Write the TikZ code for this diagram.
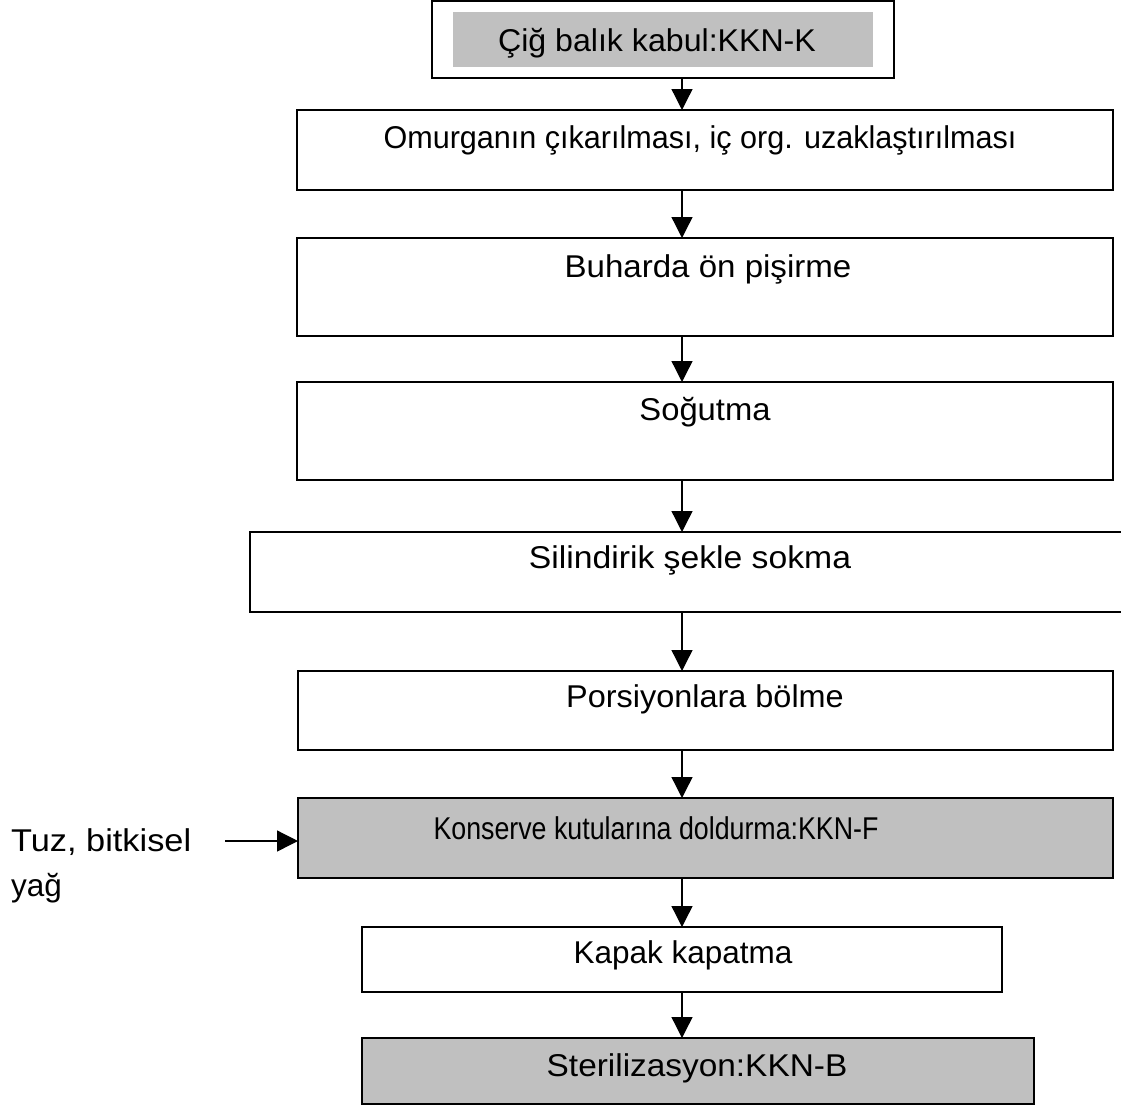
\documentclass[tikz,border=0pt]{standalone}
\usepackage{fontspec}
\setmainfont{Liberation Sans}
\usetikzlibrary{arrows.meta}
\definecolor{boxgray}{HTML}{C0C0C0}
% horizontal stretch of a label
\newcommand\hstretch[2]{\scalebox{#1}[1]{#2}}
\begin{document}
\begin{tikzpicture}[x=1pt,y=-1pt,
  stepbox/.style={draw=black,line width=1.5pt,inner sep=0pt,outer sep=0pt},
  graybox/.style={stepbox,fill=boxgray},
  txt/.style={inner sep=0pt,font=\fontsize{31.5}{36}\selectfont},
  arr/.style={line width=1.3pt,-{Triangle[length=21pt,width=21pt]}}]
\useasboundingbox (0,0) rectangle (1121,1106);
\clip (0,0) rectangle (1121,1106);
% process steps
\node[stepbox,minimum width=462pt,minimum height=77pt] (b1) at (663,39.5) {};
\node[fill=boxgray,inner sep=0pt,minimum width=420pt,minimum height=55pt] (g1) at (663,39.5) {};
\node[stepbox,minimum width=816pt,minimum height=80pt] (b2) at (705,150) {};
\node[stepbox,minimum width=816pt,minimum height=98pt] (b3) at (705,287) {};
\node[stepbox,minimum width=816pt,minimum height=98pt] (b4) at (705,431) {};
\node[stepbox,minimum width=900pt,minimum height=80pt] (b5) at (700,572) {};
\node[stepbox,minimum width=815pt,minimum height=79pt] (b6) at (705.5,710.5) {};
\node[graybox,minimum width=815pt,minimum height=80pt] (b7) at (705.5,838) {};
\node[stepbox,minimum width=640pt,minimum height=65pt] (b8) at (682,959.5) {};
\node[graybox,minimum width=672pt,minimum height=66pt] (b9) at (698,1071) {};
% step texts
\node[txt] (t1) at (657,43) {\hstretch{1.02}{Çiğ balık kabul:KKN-K}};
\node[txt] (t2) at (700,140) {\hstretch{0.97}{Omurganın çıkarılması, iç org. uzaklaştırılması}};
\node[txt] (t3) at (708,269) {\hstretch{1.05}{Buharda ön pişirme}};
\node[txt] (t4) at (705,412) {\hstretch{1.04}{Soğutma}};
\node[txt] (t5) at (690,560) {\hstretch{1.07}{Silindirik şekle sokma}};
\node[txt] (t6) at (705,699) {\hstretch{1.03}{Porsiyonlara bölme}};
\node[txt] (t7) at (656,828) {\hstretch{0.85}{Konserve kutularına doldurma:KKN-F}};
\node[txt] (t8) at (683,955) {Kapak kapatma};
\node[txt] (t9) at (697,1068) {\hstretch{1.06}{Sterilizasyon:KKN-B}};
% side input
\node[txt,align=left,anchor=north west,font=\fontsize{31.5}{45}\selectfont] (tz) at (11,828)
  {\hstretch{1.09}{Tuz, bitkisel}\\yağ};
\coordinate (tzs) at (225,841);
% flow
\coordinate (ax) at (682,0);
\draw[arr] (b1.south -| ax) -- (b2.north -| ax);
\draw[arr] (b2.south -| ax) -- (b3.north -| ax);
\draw[arr] (b3.south -| ax) -- (b4.north -| ax);
\draw[arr] (b4.south -| ax) -- (b5.north -| ax);
\draw[arr] (b5.south -| ax) -- (b6.north -| ax);
\draw[arr] (b6.south -| ax) -- (b7.north -| ax);
\draw[arr] (b7.south -| ax) -- (b8.north -| ax);
\draw[arr] (b8.south -| ax) -- (b9.north -| ax);
\draw[arr] (tzs) -- (tzs -| b7.west);
\end{tikzpicture}
\end{document}
